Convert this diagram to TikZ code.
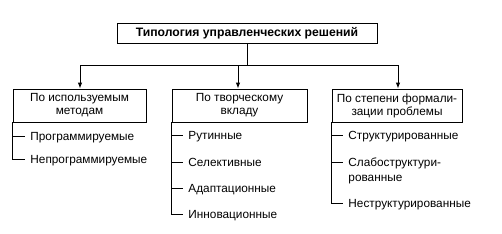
\documentclass[tikz,border=0pt]{standalone}
\usepackage{fontspec}
\setmainfont{Liberation Sans}
\usetikzlibrary{arrows.meta}
\begin{document}
\begin{tikzpicture}[x=1pt,y=-1pt,
  line width=0.9pt,
  catbox/.style={draw, rectangle, minimum height=33pt, align=center, inner sep=0pt, font=\fontsize{11.8}{13}\selectfont},
  titlebox/.style={draw, rectangle, minimum width=260pt, minimum height=20pt, inner sep=0pt, font=\bfseries\fontsize{12.2}{13}\selectfont},
  item/.style={anchor=base west, inner sep=0pt, font=\fontsize{11.8}{15}\selectfont},
  arr/.style={-{Latex[length=6pt,width=4.5pt]}}
]
\useasboundingbox (0,0) rectangle (502,233);
\node[titlebox] (top) at (247,33) {Типология управленческих решений};
\node[catbox, minimum width=133pt] (b1) at (79.5,105.5) {По используемым\\методам};
\node[catbox, minimum width=135pt] (b2) at (239.5,105.5) {По творческому\\вкладу};
\node[catbox, minimum width=130pt] (b3) at (397,105.5) {По степени формали-\\зации проблемы};
\coordinate (j) at (247,65);
\coordinate (jL) at (80,65);
\coordinate (jM) at (238,65);
\coordinate (jR) at (398,65);
\draw (top.south) -- (j);
\draw (jL) -- (jR);
\draw[arr] (jL) -- (jL |- b1.north);
\draw[arr] (jM) -- (jM |- b2.north);
\draw[arr] (jR) -- (jR |- b3.north);
% column 1
\node[item] (a1) at (30,140) {Программируемые};
\coordinate (a1l) at (30,136);
\node[item] (a2) at (30,163) {Непрограммируемые};
\coordinate (a2l) at (30,159);
\draw (b1.south west) -- (b1.south west |- a2l) -- ++(12,0);
\draw (b1.south west |- a1l) -- ++(12,0);
% column 2
\node[item] (c1) at (188,139) {Рутинные};
\coordinate (c1l) at (188,135);
\node[item] (c2) at (188,166) {Селективные};
\coordinate (c2l) at (188,162);
\node[item] (c3) at (188,192) {Адаптационные};
\coordinate (c3l) at (188,188);
\node[item] (c4) at (188,218) {Инновационные};
\coordinate (c4l) at (188,214);
\draw (b2.south west) -- (b2.south west |- c4l) -- ++(11,0);
\draw (b2.south west |- c1l) -- ++(11,0);
\draw (b2.south west |- c2l) -- ++(11,0);
\draw (b2.south west |- c3l) -- ++(11,0);
% column 3
\node[item] (d1) at (348,139) {Структурированные};
\coordinate (d1l) at (348,135);
\node[item] (d2) at (348,166) {\begin{tabular}[t]{@{}l@{}}Слабоструктури-\\рованные\end{tabular}};
\coordinate (d2l) at (348,162);
\node[item] (d3) at (348,207) {Неструктурированные};
\coordinate (d3l) at (348,203);
\draw (b3.south west) -- (b3.south west |- d3l) -- ++(11,0);
\draw (b3.south west |- d1l) -- ++(11,0);
\draw (b3.south west |- d2l) -- ++(11,0);
\end{tikzpicture}
\end{document}
